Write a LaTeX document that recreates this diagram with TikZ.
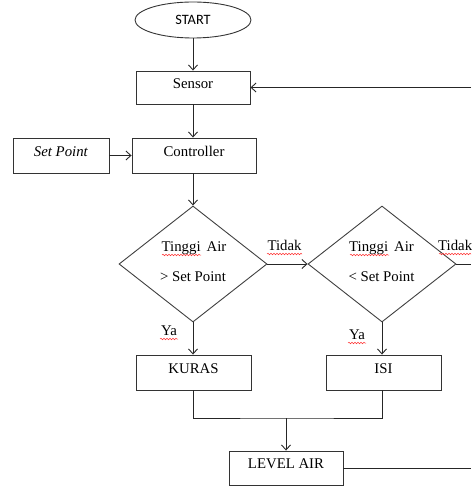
\documentclass[tikz,border=0pt]{standalone}
\usepackage{fontspec}
\setmainfont{Liberation Serif}
\newfontfamily\startfont{Carlito}
\usetikzlibrary{shapes.geometric,arrows.meta,decorations.pathmorphing}
\begin{document}
\begin{tikzpicture}[x=1pt,y=-1pt,
  every node/.style={font=\fontsize{14.8}{18}\selectfont},
  box/.style={draw=black!80, line width=0.9pt, rectangle, inner sep=0pt, text height=10pt, text depth=8pt},
  startnode/.style={draw=black!80, line width=0.9pt, ellipse, inner sep=0pt, minimum width=116pt, minimum height=36pt, font=\startfont\fontsize{14.3}{16}\selectfont},
  dia/.style={draw=black!75, line width=0.9pt, diamond, inner sep=0pt, minimum width=148pt, minimum height=116pt},
  line/.style={draw=black!85, line width=0.9pt},
  arr/.style={line, -{Straight Barb[length=5pt,width=9pt,line width=0.9pt]}},
  lbl/.style={inner sep=0pt, anchor=base},
  wavy/.style={draw=red!80, line width=0.5pt, decorate, decoration={snake, segment length=3pt, amplitude=0.8pt}}
]
\useasboundingbox (0,0) rectangle (471,486);

\node[startnode] (start) at (193,20) {START};
\node[box, minimum width=114pt, minimum height=33pt] (sensor) at (193,87.5) {Sensor};
\node[box, minimum width=96pt, minimum height=35pt] (sp) at (61,155.5) {\textit{Set Point}};
\node[box, minimum width=124pt, minimum height=35pt] (ctrl) at (194,155.5) {Controller};
\node[dia] (d1) at (193,264) {};
\node[dia] (d2) at (382,264) {};
\node[box, minimum width=115pt, minimum height=35pt] (kuras) at (193.5,372.5) {KURAS};
\node[box, minimum width=115pt, minimum height=35pt] (isi) at (383.5,372.5) {ISI};
\node[box, minimum width=114pt, minimum height=34pt, text depth=9pt] (level) at (286,468) {LEVEL AIR};

\node[lbl] (d1a) at (194,251) {Tinggi\hspace{6pt}Air};
\node[lbl] (d1b) at (193,281) {> Set Point};
\node[lbl] (d2a) at (381.5,251) {Tinggi\hspace{6pt}Air};
\node[lbl] (d2b) at (381.5,281) {< Set Point};

\node[lbl] (tidak1) at (284.5,250) {Tidak};
\node[lbl, anchor=base west] (tidak2) at (438,250) {Tidak};
\node[lbl] (ya1) at (169,335) {Ya};
\node[lbl] (ya2) at (357,339) {Ya};

\draw[wavy] (162,255) -- (201,255);
\draw[wavy] (350,255) -- (389,255);
\draw[wavy] (267,254) -- (302,254);
\draw[wavy] (439,254) -- (471,254);
\draw[wavy] (160,339) -- (178,339);
\draw[wavy] (348,343) -- (366,343);

\coordinate (j) at (286,418);
\coordinate (eR0) at (471,87.5);
\coordinate (eR1) at (471,264);
\coordinate (eR2) at (471,468);

\draw[arr] (start.south) -- (sensor.north);
\draw[arr] (sensor.south) -- (sensor.south |- ctrl.north);
\draw[arr] (sp.east) -- (ctrl.west);
\draw[arr] (ctrl.south -| d1.north) -- (d1.north);
\draw[arr] (d1.east) -- (d2.west);
\draw[line] (d2.east) -- (eR1);
\draw[arr] (d1.south) -- (d1.south |- kuras.north);
\draw[arr] (d2.south) -- (d2.south |- isi.north);
\draw[line] (d1.south |- kuras.south) |- (j) -| (d2.south |- isi.south);
\draw[arr] (j) -- (level.north);
\draw[line] (level.east) -- (eR2);
\draw[arr] (eR0) -- (sensor.east);
\end{tikzpicture}
\end{document}
